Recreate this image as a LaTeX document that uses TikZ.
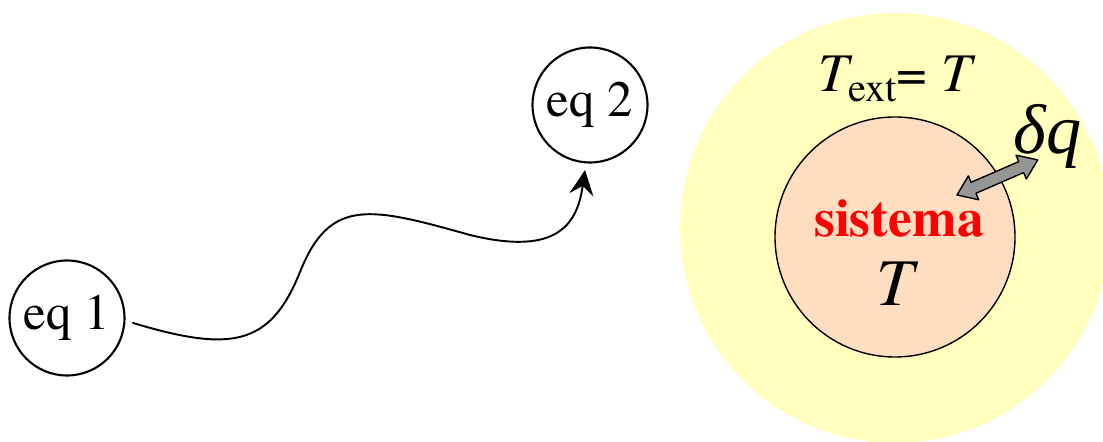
\documentclass[tikz,border=0pt]{standalone}
\usepackage{fontspec}
\setmainfont{texgyretermes-regular.otf}[
  BoldFont=texgyretermes-bold.otf,
  ItalicFont=texgyretermes-italic.otf,
  BoldItalicFont=texgyretermes-bolditalic.otf]
\newfontfamily\greekit{Liberation Serif Italic}
\usetikzlibrary{arrows.meta}
\definecolor{envyellow}{RGB}{255,255,190}
\definecolor{syspeach}{RGB}{255,221,192}
\definecolor{heatgray}{RGB}{150,150,150}

\begin{document}
\begin{tikzpicture}[
    line cap=round, line join=round,
    eqstate/.style={circle, draw=black, line width=1.2pt, fill=white,
                    minimum size=2.3cm, inner sep=0pt, font=\fontsize{29}{32}\selectfont},
    envdisk/.style={circle, fill=envyellow, minimum size=8.6cm, inner sep=0pt},
    sysdisk/.style={circle, draw=black, line width=0.8pt, fill=syspeach,
                    minimum size=4.8cm, inner sep=0pt},
    path1/.style={black, line width=1.1pt, -{Stealth[length=5mm, width=4.8mm, inset=1.8mm]}},
    lblsym/.style={font=\fontsize{31}{34}\selectfont\itshape},
  ]
  \useasboundingbox (0,0) rectangle (22.06,8.84);
  \clip (0,0) rectangle (22.06,8.84);

  % ---- process between two equilibrium states ----
  \node[eqstate] (eq1) at ( 1.34,2.48) {eq 1};
  \node[eqstate] (eq2) at (11.80,6.74) {eq 2};
  \coordinate (start) at (2.66,2.38);
  \coordinate (end)   at (11.70,5.44);

  \draw[path1] (start) .. controls (4.60,1.80) and (5.40,1.90) .. (6.00,3.40)
                       .. controls (6.60,4.90) and (7.40,4.70) .. (9.40,4.14)
                       .. controls (11.20,3.70) and (11.55,4.40) .. (end);

  % ---- system in contact with its surroundings ----
  \node[envdisk] (env) at (17.90,4.28) {};
  \node[sysdisk] (sys) at (17.90,4.10) {};

  \node[lblsym] (text) at (17.90,7.26)
    {T\raisebox{-0.45ex}{\upshape\fontsize{23}{26}\selectfont ext}\upshape= \itshape T};
  \node[font=\fontsize{30.5}{33}\selectfont\bfseries, text=red] (name) at (17.98,4.48) {sistema};
  \node[lblsym, font=\fontsize{38}{42}\selectfont\itshape] (tsys) at (17.90,3.16) {T};
  \node[lblsym, font=\fontsize{40}{44}\selectfont\greekit] (dq) at (20.95,6.12) {δq};

  % ---- heat exchange arrow ----
  \coordinate (hin)  at (19.14,4.94);
  \begin{scope}[shift={(hin)}, rotate=23.5]
    \draw[black, line width=0.8pt, fill=heatgray]
      (0,0) -- (0.36,0.26) -- (0.36,0.12) -- (1.40,0.12) -- (1.40,0.26)
      -- (1.76,0) -- (1.40,-0.26) -- (1.40,-0.12) -- (0.36,-0.12)
      -- (0.36,-0.26) -- cycle;
  \end{scope}

\end{tikzpicture}
\end{document}
